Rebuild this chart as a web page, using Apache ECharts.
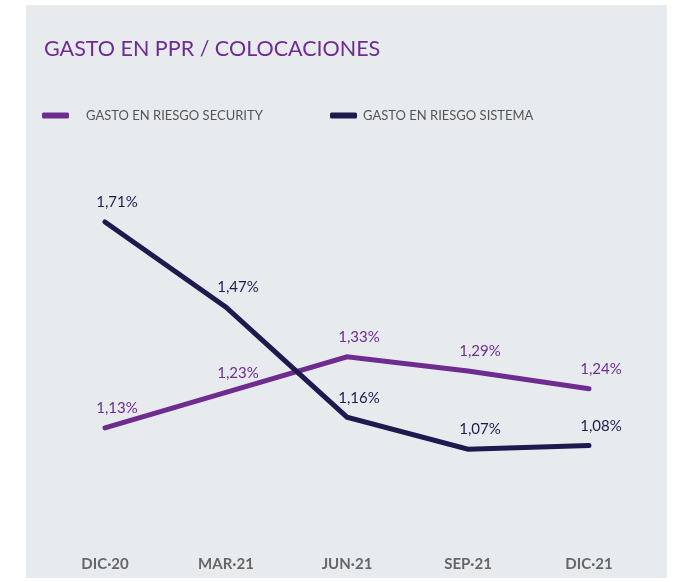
<!DOCTYPE html>
<html>
<head>
<meta charset="utf-8">
<script src="https://cdn.jsdelivr.net/npm/echarts@6/dist/echarts.min.js"></script>
<style>
html,body{margin:0;padding:0;background:#fff;}
#main{width:676px;height:582px;}
</style>
</head>
<body>
<div id="main"></div>
<script>
var categories = ['DIC·20', 'MAR·21', 'JUN·21', 'SEP·21', 'DIC·21'];
var security = [1.13, 1.23, 1.33, 1.29, 1.24];
var sistema = [1.71, 1.47, 1.16, 1.07, 1.08];
var seriesNames = ['GASTO EN RIESGO SECURITY', 'GASTO EN RIESGO SISTEMA'];
var titleText = 'GASTO EN PPR / COLOCACIONES';

var purple = '#6e2c91';
var navy = '#1e1a4e';
var fontFam = 'Lato, "Open Sans", sans-serif';

function fmt(p){ return p.value.toFixed(2).replace('.', ',') + '%'; }

var chart = echarts.init(document.getElementById('main'));
chart.setOption({
  backgroundColor: '#ffffff',
  animation: false,
  graphic: [{
    type: 'rect', z: -10, silent: true,
    shape: { x: 26, y: 5, width: 641, height: 573 },
    style: { fill: '#e8ebee' }
  }],
  title: {
    text: titleText, left: 39, top: 33,
    textStyle: { color: purple, fontSize: 21.5, fontWeight: 'normal', fontFamily: fontFam }
  },
  legend: [{
    data: [seriesNames[0]], left: 37, top: 104,
    icon: 'roundRect', itemWidth: 27, itemHeight: 6,
    textStyle: { color: '#555', fontSize: 13, fontFamily: fontFam, padding: [0, 0, 0, 12] }
  }, {
    data: [seriesNames[1]], left: 325, top: 104,
    icon: 'roundRect', itemWidth: 27, itemHeight: 6,
    textStyle: { color: '#555', fontSize: 13, fontFamily: fontFam, padding: [0, 0, 0, 1] }
  }],
  grid: { left: 105, right: 87, top: 190, bottom: 108, containLabel: false },
  xAxis: {
    type: 'category', data: categories, boundaryGap: false,
    axisLine: { show: false }, axisTick: { show: false }, splitLine: { show: false },
    axisLabel: { margin: 83, color: '#666', fontSize: 15, fontWeight: 'bold', fontFamily: fontFam }
  },
  yAxis: {
    type: 'value', min: 1.0, max: 1.8, show: false, splitLine: { show: false }
  },
  series: [{
    name: seriesNames[0], type: 'line', data: security,
    symbol: 'circle', symbolSize: 0, showSymbol: true, color: purple,
    lineStyle: { width: 5, color: purple, cap: 'round', join: 'miter' },
    label: { show: true, position: 'top', distance: 12, offset: [12, 0], formatter: fmt,
      color: purple, fontSize: 15, fontFamily: fontFam }
  }, {
    name: seriesNames[1], type: 'line', data: sistema,
    symbol: 'circle', symbolSize: 0, showSymbol: true, color: navy,
    lineStyle: { width: 5, color: navy, cap: 'round', join: 'miter' },
    label: { show: true, position: 'top', distance: 12, offset: [12, 0], formatter: fmt,
      color: navy, fontSize: 15, fontFamily: fontFam }
  }]
});
</script>
</body>
</html>
